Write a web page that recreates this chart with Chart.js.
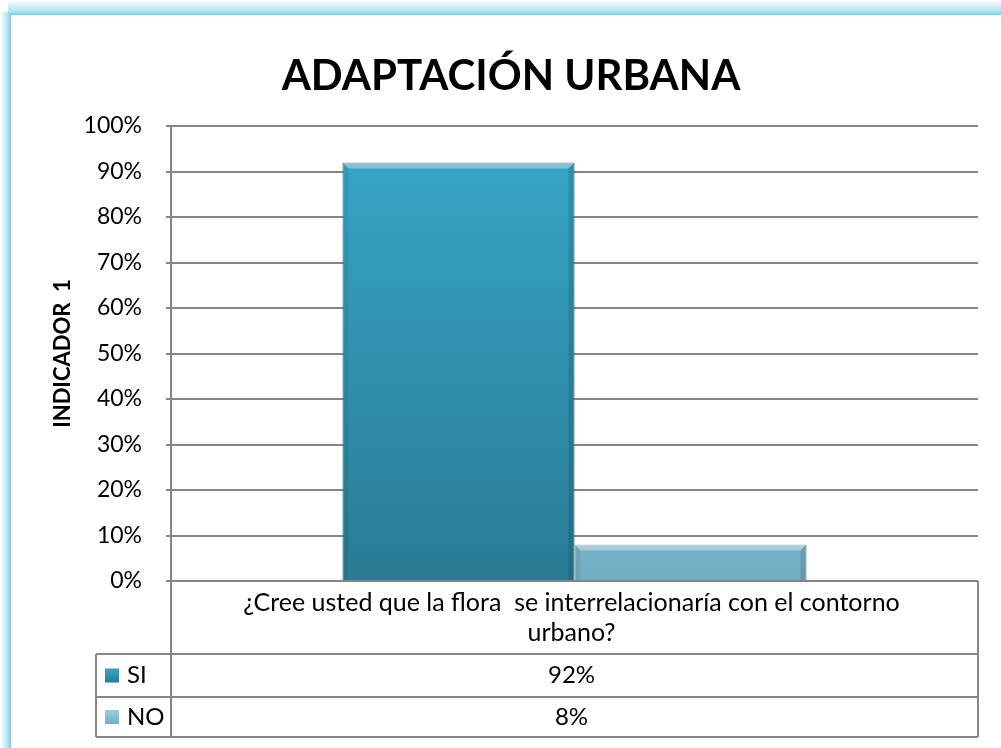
<!DOCTYPE html>
<html>
<head>
<meta charset="utf-8">
<script src="https://cdn.jsdelivr.net/npm/chart.js@4"></script>
<style>
html, body { margin: 0; padding: 0; background: #fff; }
</style>
</head>
<body>
<canvas id="chart" width="1001" height="748"></canvas>
<script>
// data
var chartTitle = 'ADAPTACIÓN URBANA';
var categories = [['¿Cree usted que la flora  se interrelacionaría con el contorno', 'urbano?']];
var seriesNames = ['SI', 'NO'];
var siValues = [92];
var noValues = [8];
var yTicks = [0, 10, 20, 30, 40, 50, 60, 70, 80, 90, 100];

var FONT = 'Lato, "Open Sans", sans-serif';
var GRID = '#868686';

// colours for the two series (top, bottom of the gradient)
var colSI = ['#37a8c8', '#2a7b94'];
var colNO = ['#93d0e3', '#73afc2'];

function barFill(cols) {
    return function (context) {
        var chart = context.chart;
        var a = chart.chartArea;
        if (!a) return cols[0];
        var g = chart.ctx.createLinearGradient(0, a.top, 0, a.bottom);
        g.addColorStop(0, cols[0]);
        g.addColorStop(1, cols[1]);
        return g;
    };
}

// white page, light blue frame, and the big title
var framePlugin = {
    id: 'frame',
    beforeDraw: function (chart) {
        var ctx = chart.ctx;
        ctx.save();
        ctx.fillStyle = '#fff';
        ctx.fillRect(0, 0, chart.width, chart.height);
        var g = ctx.createLinearGradient(0, 0, 0, 13);
        g.addColorStop(0, 'rgba(170,225,242,0)');
        g.addColorStop(1, 'rgba(160,222,240,1)');
        ctx.fillStyle = g;
        ctx.fillRect(8, 0, chart.width, 13);
        g = ctx.createLinearGradient(0, 0, 9, 0);
        g.addColorStop(0, 'rgba(170,225,242,0)');
        g.addColorStop(1, 'rgba(160,222,240,1)');
        ctx.fillStyle = g;
        ctx.fillRect(0, 12, 9, chart.height);
        ctx.strokeStyle = '#8ccfe0';
        ctx.lineWidth = 2;
        ctx.beginPath();
        ctx.moveTo(10, chart.height);
        ctx.lineTo(10, 14);
        ctx.lineTo(chart.width, 14);
        ctx.stroke();

        ctx.fillStyle = '#000';
        ctx.font = 'bold 42px ' + FONT;
        ctx.textAlign = 'center';
        ctx.textBaseline = 'middle';
        ctx.fillText(chartTitle, 511, 76);
        ctx.restore();
    }
};

// light bevel on the bars
var bevelPlugin = {
    id: 'bevel',
    afterDatasetsDraw: function (chart) {
        var ctx = chart.ctx;
        ctx.save();
        chart.data.datasets.forEach(function (ds, di) {
            chart.getDatasetMeta(di).data.forEach(function (bar) {
                var p = bar.getProps(['x', 'y', 'base', 'width'], true);
                var l = p.x - p.width / 2, r = p.x + p.width / 2;
                var t = p.y, b = p.base;
                var e = 6;
                ctx.fillStyle = 'rgba(255,255,255,0.35)';
                ctx.beginPath();
                ctx.moveTo(l, t); ctx.lineTo(r, t); ctx.lineTo(r - e, t + e); ctx.lineTo(l + e, t + e);
                ctx.closePath(); ctx.fill();
                ctx.fillStyle = 'rgba(0,0,0,0.12)';
                ctx.beginPath();
                ctx.moveTo(r, t); ctx.lineTo(r, b); ctx.lineTo(r - e, b); ctx.lineTo(r - e, t + e);
                ctx.closePath(); ctx.fill();
                ctx.fillStyle = 'rgba(0,0,0,0.06)';
                ctx.beginPath();
                ctx.moveTo(l, t); ctx.lineTo(l + e, t + e); ctx.lineTo(l + e, b); ctx.lineTo(l, b);
                ctx.closePath(); ctx.fill();
            });
        });
        ctx.restore();
    }
};

// data table under the plot, like the spreadsheet one
var tablePlugin = {
    id: 'dataTable',
    afterDraw: function (chart) {
        var ctx = chart.ctx;
        var a = chart.chartArea;
        var x = chart.scales.x;
        var top = a.bottom;
        var r1 = top + 73, r2 = r1 + 43, r3 = r2 + 40;
        var keyLeft = a.left - 75;
        var rows = [[r1, r2], [r2, r3]];
        var all = [siValues, noValues];
        var cols = [colSI, colNO];

        ctx.save();
        ctx.strokeStyle = GRID;
        ctx.lineWidth = 2;
        ctx.beginPath();
        ctx.moveTo(a.left, top); ctx.lineTo(a.left, r3);
        ctx.moveTo(a.right, top); ctx.lineTo(a.right, r3);
        ctx.moveTo(keyLeft, r1); ctx.lineTo(keyLeft, r3);
        ctx.moveTo(keyLeft, r1); ctx.lineTo(a.right, r1);
        ctx.moveTo(keyLeft, r2); ctx.lineTo(a.right, r2);
        ctx.moveTo(keyLeft, r3); ctx.lineTo(a.right, r3);
        ctx.stroke();

        ctx.fillStyle = '#000';
        ctx.font = '25px ' + FONT;
        ctx.textAlign = 'center';
        ctx.textBaseline = 'middle';
        for (var i = 0; i < categories.length; i++) {
            var cx = x.getPixelForValue(i) - 3;
            var lines = categories[i];
            for (var l = 0; l < lines.length; l++) {
                ctx.fillText(lines[l], cx, top + 22 + l * 30);
            }
            ctx.font = '24px ' + FONT;
            for (var s = 0; s < all.length; s++) {
                var mid = (rows[s][0] + rows[s][1]) / 2;
                ctx.fillText(all[s][i] + '%', cx, mid);
            }
        }

        for (var s = 0; s < seriesNames.length; s++) {
            var mid = (rows[s][0] + rows[s][1]) / 2;
            var g = ctx.createLinearGradient(0, mid - 7, 0, mid + 7);
            g.addColorStop(0, cols[s][0]);
            g.addColorStop(1, cols[s][1]);
            ctx.fillStyle = g;
            ctx.fillRect(keyLeft + 9, mid - 7, 14, 14);
            ctx.fillStyle = '#000';
            ctx.textAlign = 'left';
            ctx.fillText(seriesNames[s], keyLeft + 31, mid);
        }
        ctx.restore();
    }
};

var data = {
    labels: categories,
    datasets: [{
        label: seriesNames[0],
        data: siValues,
        backgroundColor: barFill(colSI),
        borderColor: '#25718a',
        borderWidth: 1,
        categoryPercentage: 0.575,
        barPercentage: 1
    }, {
        label: seriesNames[1],
        data: noValues,
        backgroundColor: barFill(colNO),
        borderColor: '#6aa7bb',
        borderWidth: 1,
        categoryPercentage: 0.575,
        barPercentage: 1
    }]
};

var config = {
    type: 'bar',
    data: data,
    plugins: [framePlugin, bevelPlugin, tablePlugin],
    options: {
        responsive: false,
        animation: false,
        layout: { padding: { left: 0, top: 126, right: 23, bottom: 167 } },
        plugins: {
            legend: { display: false },
            tooltip: { enabled: false },
            title: { display: false }
        },
        scales: {
            x: { display: false },
            y: {
                min: 0,
                max: 100,
                afterFit: function (scale) { scale.width = 171; },
                afterBuildTicks: function (scale) {
                    scale.ticks = yTicks.map(function (v) { return { value: v }; });
                },
                ticks: {
                    padding: 24,
                    color: '#000',
                    font: { family: FONT, size: 23 },
                    callback: function (v) { return v + '%'; }
                },
                grid: { color: GRID, lineWidth: 2, tickLength: 5 },
                border: { color: GRID, width: 2 },
                title: {
                    display: true,
                    text: 'INDICADOR  1',
                    color: '#000',
                    font: { family: FONT, size: 22, weight: 'bold' },
                    padding: { top: 50, bottom: 0 }
                }
            }
        }
    }
};

var chart = new Chart(document.getElementById('chart'), config);
</script>
</body>
</html>
